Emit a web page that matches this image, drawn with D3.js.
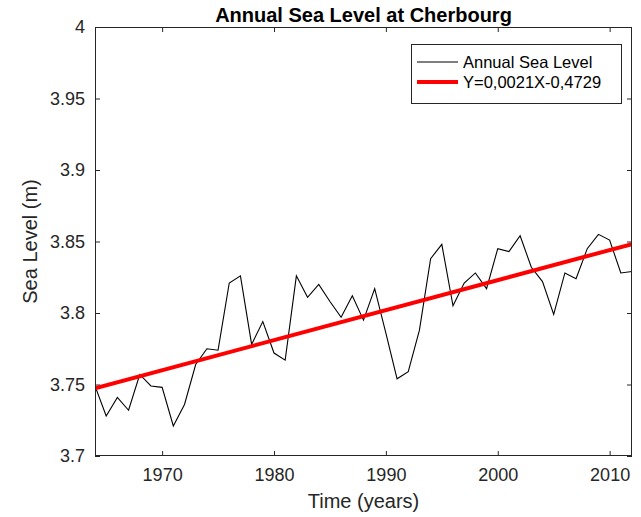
<!DOCTYPE html>
<html>
<head>
<meta charset="utf-8">
<script src="https://cdn.jsdelivr.net/npm/d3@7"></script>
<style>
  html, body { margin: 0; padding: 0; background: #ffffff; }
  svg { display: block; font-family: "Liberation Sans", Arial, sans-serif; }
</style>
</head>
<body>
<svg id="chart" width="641" height="517"></svg>
<script>
// Annual mean sea level at Cherbourg, metres
const years = [
  1964, 1965, 1966, 1967, 1968, 1969, 1970, 1971, 1972, 1973,
  1974, 1975, 1976, 1977, 1978, 1979, 1980, 1981, 1982, 1983,
  1984, 1985, 1986, 1987, 1988, 1989, 1990, 1991, 1992, 1993,
  1994, 1995, 1996, 1997, 1998, 1999, 2000, 2001, 2002, 2003,
  2004, 2005, 2006, 2007, 2008, 2009, 2010, 2011, 2012
];
const seaLevel = [
  3.749, 3.728, 3.741, 3.732, 3.757, 3.749, 3.748, 3.721, 3.736, 3.764,
  3.775, 3.774, 3.821, 3.826, 3.778, 3.794, 3.772, 3.767, 3.826, 3.811,
  3.820, 3.808, 3.797, 3.812, 3.795, 3.817, 3.786, 3.754, 3.759, 3.788,
  3.838, 3.848, 3.805, 3.821, 3.828, 3.817, 3.845, 3.843, 3.854, 3.832,
  3.822, 3.799, 3.828, 3.824, 3.845, 3.855, 3.851, 3.828, 3.829
];

// Linear trend: slope per year and fitted level at the first year
const trendSlope = 0.0021;
const trendStartLevel = 3.7474;
const trendLabel = "Y=0,0021X-0,4729";

const xTicks = [1970, 1980, 1990, 2000, 2010];
const yTicks = [3.7, 3.75, 3.8, 3.85, 3.9, 3.95, 4];
const yTickLabels = ["3.7", "3.75", "3.8", "3.85", "3.9", "3.95", "4"];

const svg = d3.select("#chart");
const box = { left: 95, right: 632, top: 27, bottom: 456 };
const axisColor = "#262626";

const x = d3.scaleLinear().domain([1964, 2012]).range([box.left, box.right]);
const y = d3.scaleLinear().domain([3.7, 4]).range([box.bottom, box.top]);

svg.append("defs").append("clipPath").attr("id", "plotClip")
  .append("rect")
  .attr("x", box.left).attr("y", box.top)
  .attr("width", box.right - box.left).attr("height", box.bottom - box.top);

// Axes (ticks pointing inward, mirrored on top and right)
const tickLen = 5;
const bottomAxis = d3.axisBottom(x).tickValues(xTicks).tickFormat(d3.format("d"))
  .tickSizeInner(-tickLen).tickSizeOuter(0).tickPadding(12);
const leftAxis = d3.axisLeft(y).tickValues(yTicks).tickFormat((d, i) => yTickLabels[i])
  .tickSizeInner(-tickLen).tickSizeOuter(0).tickPadding(10);
const topAxis = d3.axisTop(x).tickValues(xTicks).tickFormat("")
  .tickSizeInner(-tickLen).tickSizeOuter(0);
const rightAxis = d3.axisRight(y).tickValues(yTicks).tickFormat("")
  .tickSizeInner(-tickLen).tickSizeOuter(0);

function styleAxis(g) {
  g.select(".domain").remove();
  g.selectAll(".tick line").attr("stroke", axisColor).attr("stroke-width", 1);
  g.selectAll(".tick text").attr("fill", axisColor)
    .style("font-size", "18px")
    .style("font-family", "'Liberation Sans', Arial, sans-serif");
}

svg.append("g").attr("transform", `translate(0,${box.bottom})`).call(bottomAxis).call(styleAxis);
svg.append("g").attr("transform", `translate(${box.left},0)`).call(leftAxis).call(styleAxis);
svg.append("g").attr("transform", `translate(0,${box.top})`).call(topAxis).call(styleAxis);
svg.append("g").attr("transform", `translate(${box.right},0)`).call(rightAxis).call(styleAxis);

// Data series
const plot = svg.append("g").attr("clip-path", "url(#plotClip)");
const points = years.map((yr, i) => ({ year: yr, level: seaLevel[i] }));

plot.append("path")
  .datum(points)
  .attr("fill", "none")
  .attr("stroke", "#000000")
  .attr("stroke-width", 1.1)
  .attr("stroke-linejoin", "miter")
  .attr("d", d3.line().x(d => x(d.year)).y(d => y(d.level)));

const trendEnds = [years[0], years[years.length - 1]].map(yr => ({
  year: yr, level: trendStartLevel + trendSlope * (yr - years[0])
}));
plot.append("path")
  .datum(trendEnds)
  .attr("fill", "none")
  .attr("stroke", "#ff0000")
  .attr("stroke-width", 4)
  .attr("d", d3.line().x(d => x(d.year)).y(d => y(d.level)));

// Plot frame
svg.append("rect")
  .attr("x", box.left + 0.5).attr("y", box.top + 0.5)
  .attr("width", box.right - box.left - 1).attr("height", box.bottom - box.top - 1)
  .attr("fill", "none").attr("stroke", axisColor).attr("stroke-width", 1);

// Title and axis labels
svg.append("text")
  .attr("x", (box.left + box.right) / 2).attr("y", 22)
  .attr("text-anchor", "middle")
  .attr("fill", "#000000")
  .style("font-size", "20px").style("font-weight", "bold")
  .text("Annual Sea Level at Cherbourg");

svg.append("text")
  .attr("x", (box.left + box.right) / 2).attr("y", 508)
  .attr("text-anchor", "middle")
  .attr("fill", axisColor)
  .style("font-size", "20px")
  .text("Time (years)");

svg.append("text")
  .attr("transform", `translate(37,${(box.top + box.bottom) / 2}) rotate(-90)`)
  .attr("text-anchor", "middle")
  .attr("fill", axisColor)
  .style("font-size", "20px")
  .text("Sea Level (m)");

// Legend
const legend = svg.append("g");
legend.append("rect")
  .attr("x", 411.5).attr("y", 44.5).attr("width", 210).attr("height", 59)
  .attr("fill", "#ffffff").attr("stroke", axisColor).attr("stroke-width", 1);

const legendItems = [
  { label: "Annual Sea Level", color: "#000000", width: 1.1 },
  { label: trendLabel, color: "#ff0000", width: 4 }
];
legendItems.forEach((item, i) => {
  const cy = 62 + i * 20;
  legend.append("line")
    .attr("x1", 417).attr("x2", 458).attr("y1", cy).attr("y2", cy)
    .attr("stroke", item.color).attr("stroke-width", item.width);
  legend.append("text")
    .attr("x", 463).attr("y", cy + 6)
    .attr("fill", "#000000")
    .style("font-size", "16.5px")
    .text(item.label);
});
</script>
</body>
</html>
